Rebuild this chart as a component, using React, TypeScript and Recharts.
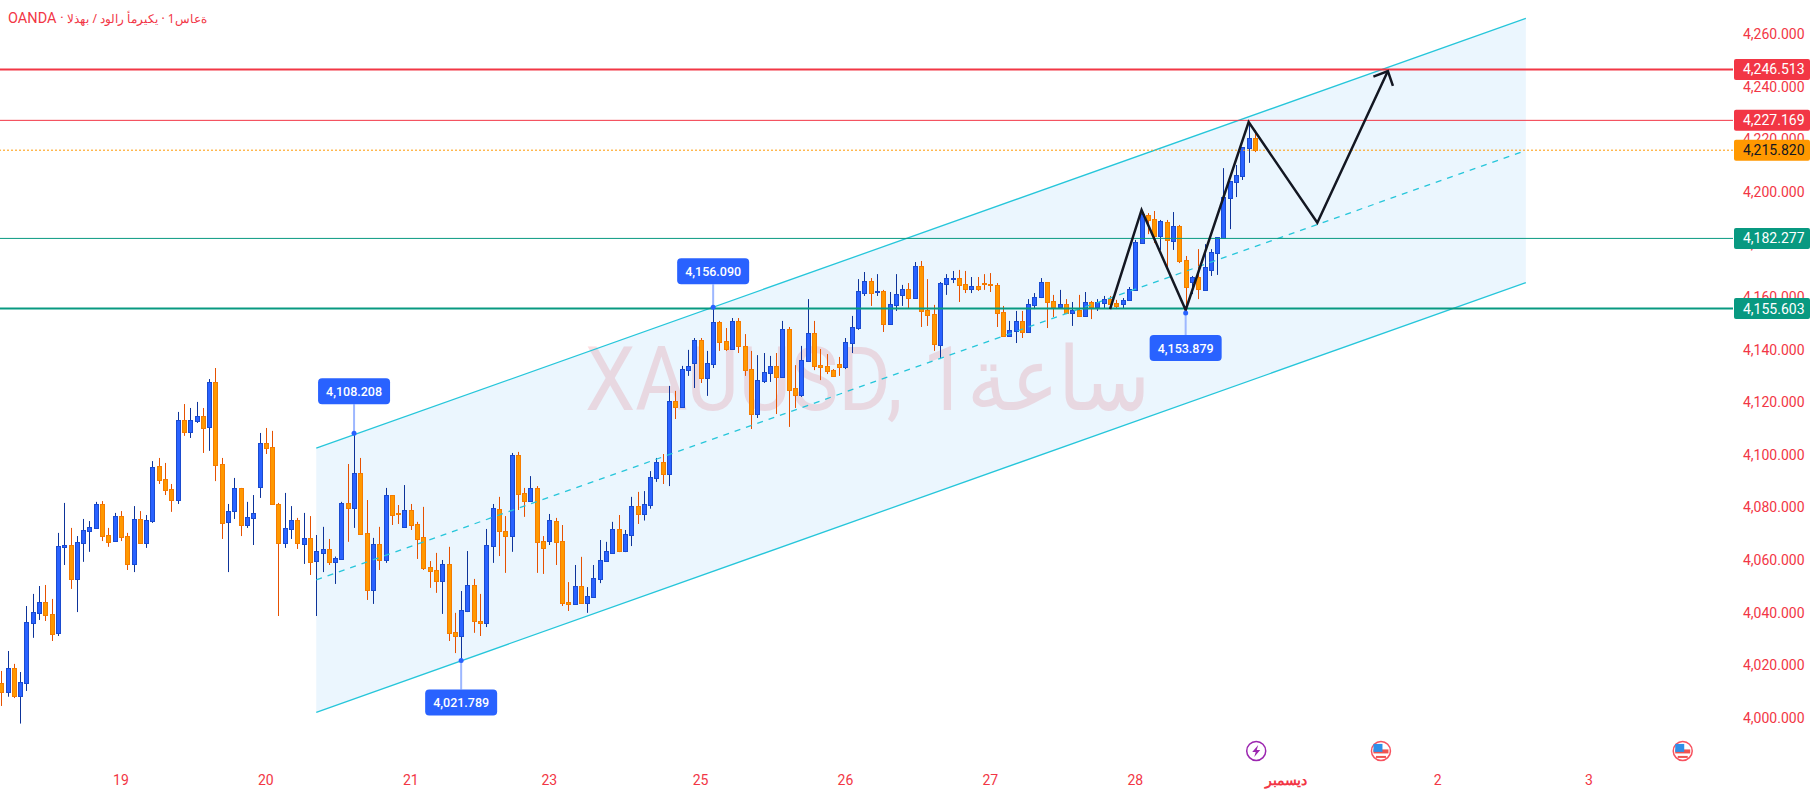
import { Area, Bar, ComposedChart, Line, ReferenceDot, ReferenceLine, XAxis, YAxis } from "recharts";

const opens = [
  4013.2, 4009.9, 4018.9, 4008.4, 4013.4, 4036.2, 4040.0, 4044.0, 4039.5, 4032.3,
  4065.0, 4065.7, 4052.8, 4066.5, 4071.0, 4072.2, 4081.3, 4069.5, 4067.2, 4076.7,
  4069.1, 4058.5, 4075.6, 4066.5, 4074.8, 4095.7, 4090.8, 4087.0, 4082.8, 4113.2,
  4108.7, 4112.9, 4114.8, 4110.6, 4127.7, 4096.5, 4074.5, 4078.6, 4087.4, 4073.3,
  4076.0, 4087.8, 4104.5, 4103.0, 4081.3, 4066.5, 4071.8, 4075.2, 4066.1, 4068.4,
  4059.6, 4062.7, 4064.2, 4059.2, 4060.4, 4081.7, 4079.8, 4093.1, 4070.3, 4048.6,
  4066.1, 4060.0, 4084.7, 4077.9, 4072.6, 4079.0, 4073.7, 4068.8, 4057.3, 4056.2,
  4052.0, 4058.5, 4032.6, 4031.1, 4040.6, 4050.5, 4036.8, 4036.1, 4065.3, 4079.4,
  4071.0, 4069.1, 4099.9, 4085.5, 4082.4, 4087.4, 4067.2, 4067.2, 4074.8, 4067.2,
  4044.0, 4043.3, 4050.1, 4043.7, 4045.9, 4052.8, 4059.6, 4062.7, 4071.8, 4063.4,
  4069.5, 4080.5, 4077.5, 4080.9, 4091.2, 4097.3, 4092.7, 4120.5, 4118.2, 4132.2,
  4134.9, 4143.7, 4129.2, 4134.5, 4150.5, 4143.3, 4140.2, 4150.9, 4141.4, 4132.6,
  4115.5, 4128.1, 4131.1, 4133.8, 4129.6, 4147.8, 4125.4, 4122.7, 4135.7, 4146.3,
  4134.1, 4133.8, 4132.2, 4134.5, 4133.4, 4142.5, 4148.2, 4161.5, 4166.1, 4161.9,
  4162.3, 4149.7, 4157.0, 4160.8, 4163.0, 4159.6, 4171.8, 4155.1, 4153.5, 4141.8,
  4164.9, 4166.8, 4167.2, 4164.9, 4163.0, 4164.2, 4165.3, 4164.9, 4164.6, 4154.3,
  4145.2, 4147.1, 4150.9, 4146.7, 4157.0, 4160.0, 4165.7, 4158.5, 4156.2, 4157.3,
  4153.9, 4155.1, 4152.8, 4158.1, 4156.2, 4157.7, 4159.2, 4157.7, 4157.3, 4158.9,
  4162.7, 4180.5, 4191.2, 4189.7, 4183.2, 4188.5, 4181.3, 4187.0, 4174.1, 4165.7,
  4167.6, 4162.7, 4170.3, 4176.7, 4182.4, 4197.6, 4203.7, 4206.0, 4216.6, 4220.5,
];

const closes = [
  4009.9, 4018.9, 4008.4, 4013.6, 4036.4, 4040.2, 4044.0, 4039.1, 4031.9, 4065.3,
  4065.7, 4052.8, 4066.9, 4071.4, 4072.6, 4081.3, 4069.1, 4066.9, 4076.7, 4068.8,
  4058.5, 4075.6, 4066.5, 4075.2, 4095.4, 4090.4, 4086.6, 4082.8, 4113.2, 4108.7,
  4113.2, 4114.8, 4110.2, 4127.7, 4096.1, 4074.1, 4078.6, 4087.4, 4073.3, 4076.4,
  4077.9, 4104.5, 4102.6, 4081.3, 4066.5, 4072.2, 4075.2, 4066.5, 4068.4, 4059.3,
  4063.4, 4064.2, 4059.2, 4060.8, 4081.7, 4079.8, 4093.1, 4069.9, 4048.6, 4066.1,
  4060.0, 4084.7, 4077.1, 4077.5, 4079.0, 4073.3, 4068.0, 4057.0, 4055.8, 4052.0,
  4058.5, 4032.3, 4031.1, 4041.0, 4050.5, 4036.8, 4036.1, 4065.7, 4079.8, 4071.0,
  4069.1, 4099.9, 4085.1, 4082.4, 4087.4, 4066.9, 4064.6, 4075.2, 4066.9, 4043.7,
  4043.3, 4050.1, 4043.7, 4046.3, 4053.2, 4060.0, 4063.4, 4071.8, 4063.4, 4069.9,
  4080.5, 4077.5, 4081.3, 4091.6, 4097.3, 4092.7, 4120.5, 4118.2, 4132.6, 4133.8,
  4143.7, 4129.2, 4134.9, 4150.5, 4142.9, 4140.2, 4150.9, 4141.4, 4132.2, 4115.5,
  4128.4, 4131.5, 4133.8, 4129.6, 4147.8, 4124.6, 4122.7, 4136.0, 4146.3, 4133.8,
  4133.4, 4131.9, 4130.0, 4133.4, 4142.9, 4148.6, 4162.3, 4166.1, 4161.5, 4162.3,
  4149.7, 4157.3, 4161.1, 4163.0, 4159.6, 4171.8, 4154.7, 4153.2, 4142.1, 4165.3,
  4167.2, 4167.2, 4164.6, 4163.0, 4164.2, 4163.0, 4164.9, 4164.6, 4153.9, 4145.2,
  4147.5, 4150.9, 4146.7, 4157.3, 4160.0, 4165.7, 4158.1, 4156.2, 4157.3, 4153.9,
  4155.1, 4152.8, 4158.1, 4156.2, 4158.1, 4159.2, 4157.3, 4156.6, 4158.9, 4163.0,
  4180.9, 4191.6, 4189.3, 4183.2, 4188.9, 4181.7, 4187.0, 4173.7, 4163.8, 4167.6,
  4163.0, 4171.4, 4177.1, 4182.8, 4198.0, 4204.1, 4206.4, 4217.0, 4220.5, 4215.82,
];

const highs = [
  4017.8, 4025.4, 4020.5, 4017.4, 4042.5, 4047.1, 4050.1, 4050.5, 4045.2, 4070.3,
  4081.7, 4072.2, 4069.1, 4075.6, 4074.8, 4082.1, 4082.4, 4072.2, 4077.9, 4078.6,
  4070.3, 4080.5, 4078.6, 4077.1, 4097.6, 4098.8, 4096.9, 4088.9, 4116.3, 4119.3,
  4117.8, 4120.1, 4117.8, 4128.8, 4133.0, 4098.8, 4081.3, 4091.2, 4087.4, 4082.1,
  4084.7, 4108.3, 4110.2, 4109.1, 4081.7, 4085.5, 4080.5, 4076.0, 4077.9, 4076.7,
  4069.5, 4072.6, 4068.0, 4061.3, 4082.1, 4096.5, 4108.2, 4098.8, 4082.8, 4068.4,
  4072.6, 4087.4, 4084.7, 4080.9, 4088.5, 4081.3, 4074.5, 4080.2, 4059.6, 4062.7,
  4060.0, 4065.0, 4039.9, 4048.2, 4063.4, 4052.8, 4047.1, 4071.8, 4081.3, 4084.0,
  4076.7, 4100.7, 4101.1, 4087.4, 4091.9, 4088.1, 4069.1, 4077.5, 4076.0, 4073.3,
  4051.6, 4058.1, 4061.2, 4049.7, 4058.1, 4067.6, 4066.9, 4074.5, 4077.1, 4071.4,
  4084.0, 4085.9, 4086.2, 4093.8, 4098.8, 4100.3, 4126.2, 4124.3, 4133.8, 4139.9,
  4144.4, 4144.4, 4139.5, 4156.1, 4150.9, 4148.2, 4152.0, 4152.0, 4145.9, 4139.5,
  4137.9, 4138.7, 4137.6, 4138.7, 4150.9, 4148.6, 4134.1, 4141.4, 4159.2, 4150.9,
  4140.2, 4138.3, 4132.6, 4137.2, 4144.4, 4152.8, 4166.8, 4169.5, 4167.2, 4168.7,
  4162.7, 4161.9, 4168.7, 4164.6, 4165.3, 4173.3, 4173.7, 4166.8, 4157.0, 4165.7,
  4168.7, 4169.9, 4170.3, 4169.9, 4167.6, 4167.6, 4168.7, 4169.1, 4165.3, 4156.6,
  4150.9, 4154.7, 4154.7, 4159.2, 4161.5, 4167.2, 4165.7, 4160.8, 4162.7, 4159.2,
  4158.1, 4160.8, 4161.9, 4158.5, 4159.2, 4160.4, 4160.4, 4158.9, 4159.6, 4163.8,
  4181.7, 4193.1, 4191.9, 4192.7, 4189.3, 4189.3, 4192.3, 4187.4, 4175.6, 4168.0,
  4178.2, 4180.1, 4178.2, 4182.8, 4209.0, 4204.1, 4210.2, 4217.0, 4226.5, 4223.5,
];

const lows = [
  4004.5, 4008.0, 4007.5, 3997.8, 4010.2, 4030.4, 4037.2, 4036.8, 4029.2, 4031.1,
  4058.1, 4049.0, 4040.2, 4059.3, 4063.1, 4072.2, 4067.2, 4065.0, 4066.9, 4067.2,
  4056.2, 4055.4, 4066.1, 4064.6, 4074.1, 4088.9, 4084.7, 4078.3, 4081.3, 4107.2,
  4106.4, 4112.1, 4100.7, 4101.5, 4090.0, 4068.0, 4055.4, 4075.6, 4069.1, 4072.2,
  4065.7, 4083.6, 4100.3, 4080.9, 4038.7, 4064.6, 4068.0, 4064.2, 4058.5, 4054.3,
  4038.7, 4055.4, 4058.1, 4050.9, 4060.0, 4066.9, 4072.2, 4069.9, 4044.8, 4043.3,
  4056.2, 4058.9, 4073.3, 4073.7, 4072.6, 4071.4, 4060.4, 4056.2, 4049.4, 4047.5,
  4039.5, 4029.2, 4024.6, 4021.8, 4040.2, 4032.3, 4031.1, 4034.5, 4058.9, 4061.5,
  4055.1, 4063.1, 4079.0, 4076.4, 4082.4, 4055.1, 4054.7, 4065.7, 4058.1, 4042.5,
  4040.6, 4043.3, 4043.3, 4039.9, 4045.6, 4051.2, 4059.6, 4062.7, 4063.0, 4063.0,
  4065.3, 4073.7, 4075.0, 4079.5, 4089.7, 4088.9, 4088.1, 4113.6, 4118.2, 4130.0,
  4125.4, 4127.3, 4122.4, 4133.0, 4139.5, 4139.5, 4140.2, 4138.7, 4130.0, 4109.8,
  4114.0, 4127.3, 4127.7, 4115.5, 4129.6, 4110.6, 4117.8, 4122.0, 4135.7, 4132.2,
  4128.4, 4130.7, 4130.0, 4130.0, 4132.6, 4138.7, 4147.5, 4160.4, 4156.6, 4160.4,
  4146.7, 4149.7, 4154.7, 4156.6, 4155.8, 4159.6, 4148.6, 4149.0, 4139.5, 4136.4,
  4160.8, 4165.3, 4158.1, 4161.5, 4161.5, 4162.3, 4162.7, 4161.9, 4148.6, 4145.2,
  4145.2, 4142.5, 4144.4, 4146.7, 4155.4, 4159.6, 4148.2, 4152.4, 4156.2, 4153.5,
  4149.0, 4152.8, 4152.8, 4151.6, 4154.7, 4155.8, 4155.8, 4155.4, 4155.8, 4158.9,
  4162.7, 4180.5, 4183.9, 4180.5, 4177.9, 4171.4, 4177.9, 4172.9, 4153.9, 4161.1,
  4159.2, 4162.3, 4168.0, 4168.4, 4182.4, 4185.8, 4198.0, 4204.5, 4211.0, 4215.1,
];

// parallel channel, x is in candle numbers
const channelX = [50, 242];
const channelUpper = [4102.5, 4265.97];
const channelMid = [4052.4, 4215.74];
const channelLower = [4002.1, 4165.44];

// hand drawn projection and its arrow head
const zigzagX = [176, 181, 188, 198, 208.9, 220.1];
const zigzagPrice = [4155.4, 4193.1, 4155.06, 4226.5, 4188.25, 4245.9];
const arrowX = [217.8, 220.1, 220.9];
const arrowPrice = [4243.8, 4245.9, 4240.3];

const priceTicks = [
  4000, 4020, 4040, 4060, 4080, 4100, 4120, 4140, 4160, 4180, 4200, 4220, 4240, 4260,
];
const dayTicks = [19, 42, 65, 87, 111, 134, 157, 180, 204, 228, 252];
const dayLabels = ["19", "20", "21", "23", "25", "26", "27", "28", "ديسمبر", "2", "3"];

const levelPrices = [4246.513, 4227.169, 4215.82, 4182.277, 4155.603];

const calloutX = [56, 73, 113, 188];
const calloutPrice = [4108.208, 4021.789, 4156.09, 4153.879];

const eventX = [199.2, 219, 266.9];
const eventKinds = ["bolt", "flag", "flag"];
const EVENT_ROW_PRICE = 3987.4;

const RED = "#f23645";
const GREEN = "#089981";
const ORANGE = "#ff9800";
const BLUE = "#2962ff";
const CYAN = "#26c6da";
const FONT = "Roboto, sans-serif";

const CHART_W = 1815;
const CHART_H = 796;
const X_DOMAIN = [-0.2, 274.88];
const Y_DOMAIN = [3983.95, 4272.93];

type Row = {
  x: number;
  open?: number;
  high?: number;
  low?: number;
  close?: number;
  upper?: number;
  mid?: number;
  lower?: number;
  zigzag?: number;
  arrow?: number;
};

const rowsByX = new Map<number, Row>();
const rowAt = (x: number) => {
  if (!rowsByX.has(x)) rowsByX.set(x, { x });
  return rowsByX.get(x) as Row;
};
opens.forEach((open, i) => {
  Object.assign(rowAt(i), { open, high: highs[i], low: lows[i], close: closes[i] });
});
channelX.forEach((x, i) => {
  Object.assign(rowAt(x), { upper: channelUpper[i], mid: channelMid[i], lower: channelLower[i] });
});
zigzagX.forEach((x, i) => {
  rowAt(x).zigzag = zigzagPrice[i];
});
arrowX.forEach((x, i) => {
  rowAt(x).arrow = arrowPrice[i];
});
const rows = [...rowsByX.values()].sort((a, b) => a.x - b.x);

const Candle = (props: any) => {
  const { x, y, width, height, payload } = props;
  if (payload.open == null || !height) return null;
  const { open, high, low, close } = payload;
  const perUnit = height / (high - low);
  const up = close >= open;
  const cx = Math.round(x + width / 2) + 0.5;
  const top = Math.round(y + (high - Math.max(open, close)) * perUnit) + 0.5;
  const bottom = Math.round(y + (high - Math.min(open, close)) * perUnit) + 0.5;
  return (
    <g>
      <line x1={cx} x2={cx} y1={y} y2={y + height} stroke={up ? "#0d3399" : "#e65100"} />
      <rect
        x={cx - 2}
        y={top}
        width={4}
        height={Math.max(bottom - top, 1)}
        fill={up ? BLUE : ORANGE}
        stroke={up ? "#1a4bd0" : "#f57c00"}
      />
    </g>
  );
};

const DayTick = ({ x, y, payload, index }: any) => {
  const label = dayLabels[dayTicks.indexOf(payload.value)] ?? dayLabels[index];
  const month = label === "ديسمبر";
  return (
    <text
      x={x}
      y={y + 17}
      textAnchor="middle"
      fill={RED}
      fontFamily={month ? "'Noto Sans', sans-serif" : FONT}
      fontSize={14}
      fontWeight={month ? 700 : 400}
    >
      {label}
    </text>
  );
};

const priceText = (v: number) =>
  v.toLocaleString("en-US", { minimumFractionDigits: 3, maximumFractionDigits: 3 });

const PriceTag = ({ viewBox, price, fill, color }: any) => {
  const right = viewBox.x + viewBox.width;
  return (
    <g>
      <rect x={right + 1} y={viewBox.y - 10.5} width={76} height={21} rx={2} fill={fill} />
      <text x={right + 10} y={viewBox.y + 5} fill={color} fontFamily={FONT} fontSize={14}>
        {priceText(price)}
      </text>
    </g>
  );
};

const Callout = ({ cx, cy, price, gap }: any) => {
  const rectY = gap < 0 ? cy + gap - 26 : cy + gap;
  return (
    <g>
      <line x1={cx} x2={cx} y1={cy} y2={cy + gap} stroke="#9db7ff" strokeWidth={2} />
      <circle cx={cx} cy={cy} r={2.5} fill={BLUE} />
      <rect x={cx - 36} y={rectY} width={72} height={26} rx={4} fill={BLUE} />
      <text
        x={cx}
        y={rectY + 17.5}
        textAnchor="middle"
        fill="#fff"
        fontFamily={FONT}
        fontSize={12.5}
        fontWeight={500}
      >
        {priceText(price)}
      </text>
    </g>
  );
};

const EventIcon = ({ cx, cy, kind }: any) => {
  if (kind === "bolt") {
    return (
      <g>
        <circle cx={cx} cy={cy} r={9.5} fill="#fff" stroke="#9c27b0" strokeWidth={1.5} />
        <path
          d={`M${cx + 2} ${cy - 6} L${cx - 4} ${cy + 1} H${cx - 0.5} L${cx - 2} ${cy + 6} L${cx + 4} ${cy - 1} H${cx + 0.5} Z`}
          fill="#9c27b0"
        />
      </g>
    );
  }
  return (
    <g>
      <circle cx={cx} cy={cy} r={9.5} fill="#fff" stroke="#f7525f" strokeWidth={1.5} />
      <rect x={cx - 7.5} y={cy - 1.5} width={15} height={4} fill="#ef5350" />
      <rect x={cx - 5} y={cy + 5} width={10} height={2} fill="#ef5350" />
      <rect x={cx - 7.5} y={cy - 7} width={9} height={8} fill="#2f8fe8" />
    </g>
  );
};

const tagFills = [RED, RED, ORANGE, GREEN, GREEN];
const tagColors = ["#fff", "#fff", "#131722", "#fff", "#fff"];

const App = () => (
  <div
    style={{
      position: "absolute",
      left: 0,
      top: 0,
      width: CHART_W,
      height: CHART_H,
      background: "#fff",
      overflow: "hidden",
    }}
  >
    <div
      style={{
        position: "absolute",
        left: 8,
        top: 10,
        color: RED,
        fontFamily: FONT,
        fontSize: 14.5,
        whiteSpace: "nowrap",
      }}
    >
      <span>OANDA · </span>
      <span style={{ direction: "ltr", unicodeBidi: "bidi-override", fontFamily: "'Noto Sans', sans-serif", fontSize: 12 }}>
        الذهب / دولار أمريكي · 1ساعة
      </span>
    </div>
    <div
      style={{
        position: "absolute",
        left: 585,
        top: 330,
        color: RED,
        opacity: 0.16,
        fontFamily: "Roboto, 'Noto Sans', sans-serif",
        fontSize: 89,
        lineHeight: "100px",
        direction: "ltr",
        whiteSpace: "nowrap",
        transform: "scaleX(0.9)",
        transformOrigin: "left center",
      }}
    >
      XAUUSD, 1<span dir="rtl">ساعة</span>
    </div>
    <div style={{ position: "absolute", left: 0, top: 0 }}>
      <ComposedChart
        width={CHART_W}
        height={CHART_H}
        data={rows}
        margin={{ top: 0, right: 0, bottom: 0, left: 0 }}
      >
        <XAxis
          dataKey="x"
          type="number"
          domain={X_DOMAIN}
          allowDataOverflow
          ticks={dayTicks}
          interval={0}
          axisLine={false}
          tickLine={false}
          height={36}
          tick={<DayTick />}
        />
        <YAxis
          orientation="right"
          type="number"
          domain={Y_DOMAIN}
          allowDataOverflow
          ticks={priceTicks}
          interval={0}
          axisLine={false}
          tickLine={false}
          tickSize={0}
          width={82}
          tickMargin={10}
          tickFormatter={priceText}
          tick={{ fill: RED, fontFamily: FONT, fontSize: 14 }}
        />
        <Area
          dataKey={(r: Row) => (r.upper == null ? null : [r.lower, r.upper])}
          type="linear"
          connectNulls
          stroke="none"
          fill="#2196f3"
          fillOpacity={0.09}
          dot={false}
          activeDot={false}
          isAnimationActive={false}
        />
        <Line dataKey="upper" type="linear" connectNulls stroke={CYAN} strokeWidth={1.3} dot={false} activeDot={false} isAnimationActive={false} />
        <Line dataKey="lower" type="linear" connectNulls stroke={CYAN} strokeWidth={1.3} dot={false} activeDot={false} isAnimationActive={false} />
        <Line dataKey="mid" type="linear" connectNulls stroke={CYAN} strokeWidth={1.3} strokeDasharray="6 6" dot={false} activeDot={false} isAnimationActive={false} />
        <Bar
          dataKey={(r: Row) => (r.open == null ? null : [r.low, r.high])}
          barSize={5}
          shape={<Candle />}
          isAnimationActive={false}
        />
        <ReferenceLine y={levelPrices[0]} stroke={RED} strokeWidth={2} />
        <ReferenceLine y={levelPrices[1]} stroke={RED} strokeWidth={1} />
        <ReferenceLine y={levelPrices[2]} stroke={ORANGE} strokeWidth={1} strokeDasharray="2 2" />
        <ReferenceLine y={levelPrices[3]} stroke={GREEN} strokeWidth={1} />
        <ReferenceLine y={levelPrices[4]} stroke={GREEN} strokeWidth={2} />
        <Line dataKey="zigzag" type="linear" connectNulls stroke="#131722" strokeWidth={2.5} dot={false} activeDot={false} isAnimationActive={false} />
        <Line dataKey="arrow" type="linear" connectNulls stroke="#131722" strokeWidth={2.5} dot={false} activeDot={false} isAnimationActive={false} />
        <ReferenceDot x={calloutX[0]} y={calloutPrice[0]} shape={<Callout price={calloutPrice[0]} gap={-29} />} />
        <ReferenceDot x={calloutX[1]} y={calloutPrice[1]} shape={<Callout price={calloutPrice[1]} gap={29} />} />
        <ReferenceDot x={calloutX[2]} y={calloutPrice[2]} shape={<Callout price={calloutPrice[2]} gap={-23} />} />
        <ReferenceDot x={calloutX[3]} y={calloutPrice[3]} shape={<Callout price={calloutPrice[3]} gap={22} />} />
        {eventX.map((x, i) => (
          <ReferenceDot key={x} x={x} y={EVENT_ROW_PRICE} shape={<EventIcon kind={eventKinds[i]} />} />
        ))}
      </ComposedChart>
    </div>
    {/* price tags sit in a second chart on top, they have to cover the axis labels */}
    <div style={{ position: "absolute", left: 0, top: 0 }}>
      <ComposedChart
        width={CHART_W}
        height={CHART_H}
        data={rows}
        margin={{ top: 0, right: 0, bottom: 0, left: 0 }}
      >
        <XAxis dataKey="x" type="number" domain={X_DOMAIN} allowDataOverflow tick={false} axisLine={false} tickLine={false} height={36} />
        <YAxis orientation="right" type="number" domain={Y_DOMAIN} allowDataOverflow tick={false} axisLine={false} tickLine={false} width={82} />
        {levelPrices.map((price, i) => (
          <ReferenceLine
            key={price}
            y={price}
            stroke="none"
            label={<PriceTag price={price} fill={tagFills[i]} color={tagColors[i]} />}
          />
        ))}
      </ComposedChart>
    </div>
  </div>
);

export default App;
